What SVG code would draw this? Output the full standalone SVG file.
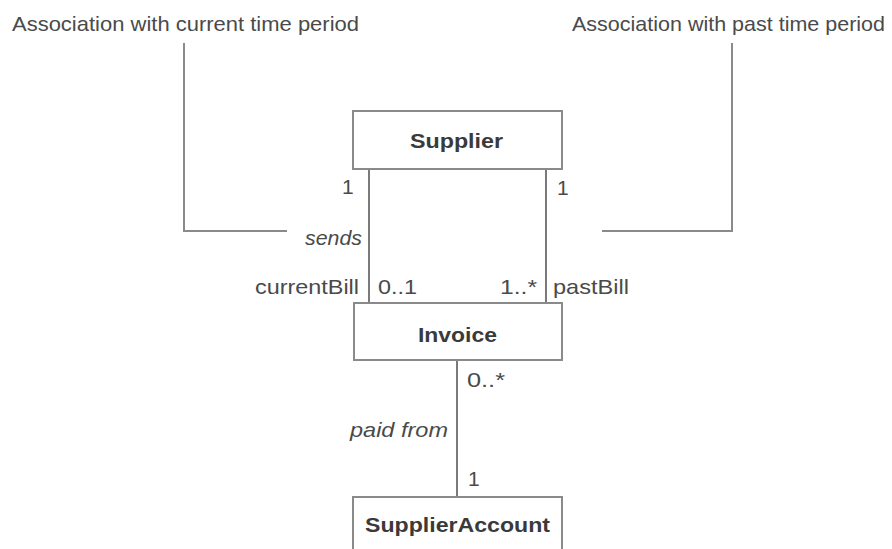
<svg xmlns="http://www.w3.org/2000/svg" width="892" height="549" viewBox="0 0 892 549">
<style>
.box{fill:#fff;stroke:#8a8a8a;stroke-width:2}
.ln{fill:none;stroke:#7a7a7a;stroke-width:2}
.cl{fill:none;stroke:#8a8a8a;stroke-width:2}
text{font-family:"Liberation Sans",Arial,sans-serif;font-size:21px;fill:#4a4a4a}
.b{font-weight:bold;fill:#3a3a3a}
.i{font-style:italic}
</style>
<rect width="892" height="549" fill="#fff"/>
<g id="connectors">
<path class="ln" d="M369 169V303"/>
<path class="ln" d="M546 169V303"/>
<path class="ln" d="M457 360V497"/>
<path class="cl" d="M184 43V231H287"/>
<path class="cl" d="M732 43V231H602"/>
<text x="342" y="194">1</text>
<text x="557" y="195">1</text>
<text class="i" x="305" y="245" textLength="57" lengthAdjust="spacingAndGlyphs">sends</text>
<text x="255" y="294" textLength="104" lengthAdjust="spacingAndGlyphs">currentBill</text>
<text x="378" y="294" textLength="39" lengthAdjust="spacingAndGlyphs">0..1</text>
<text x="500" y="294" textLength="37" lengthAdjust="spacingAndGlyphs">1..*</text>
<text x="553" y="294" textLength="76" lengthAdjust="spacingAndGlyphs">pastBill</text>
<text x="467" y="387" textLength="38" lengthAdjust="spacingAndGlyphs">0..*</text>
<text class="i" x="350" y="437" textLength="98" lengthAdjust="spacingAndGlyphs">paid from</text>
<text x="468" y="486">1</text>
</g>
<g id="note-current">
<text x="12" y="31" textLength="347" lengthAdjust="spacingAndGlyphs">Association with current time period</text>
</g>
<g id="note-past">
<text x="572" y="31" textLength="313" lengthAdjust="spacingAndGlyphs">Association with past time period</text>
</g>
<g id="supplier">
<rect class="box" x="353" y="111" width="209" height="58"/>
<text class="b" x="410" y="148" textLength="93" lengthAdjust="spacingAndGlyphs">Supplier</text>
</g>
<g id="invoice">
<rect class="box" x="354" y="303" width="208" height="57"/>
<text class="b" x="418" y="342" textLength="79" lengthAdjust="spacingAndGlyphs">Invoice</text>
</g>
<g id="supplier-account">
<rect class="box" x="353" y="497" width="209" height="60"/>
<text class="b" x="365" y="532" textLength="185" lengthAdjust="spacingAndGlyphs">SupplierAccount</text>
</g>
</svg>
